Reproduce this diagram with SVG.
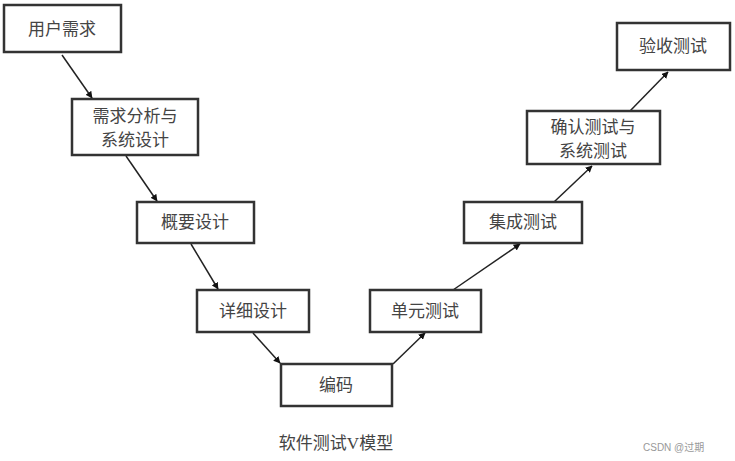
<svg xmlns="http://www.w3.org/2000/svg" width="735" height="461" viewBox="0 0 735 461">
<defs>
<style>
.b{fill:#fff;stroke:#333;stroke-width:2.5}
.t{font-family:"Liberation Serif","Noto Sans CJK SC",serif;font-size:17px;fill:#444;text-anchor:middle}
.c line{stroke:#222;stroke-width:1.5;marker-end:url(#a)}
</style>
<marker id="a" viewBox="0 0 10 10" refX="9" refY="5" markerWidth="7" markerHeight="7" orient="auto" markerUnits="userSpaceOnUse"><path d="M0,0L10,5L0,10z" fill="#111"/></marker>
</defs>
<rect width="735" height="461" fill="#fff"/>
<g class="c">
<line x1="62" y1="55" x2="92" y2="98"/>
<line x1="126" y1="156" x2="157" y2="201"/>
<line x1="191" y1="244" x2="218" y2="289"/>
<line x1="253" y1="333" x2="280" y2="363"/>
<line x1="393" y1="364" x2="425" y2="333"/>
<line x1="453" y1="290" x2="520" y2="244"/>
<line x1="554" y1="202" x2="592" y2="166"/>
<line x1="630" y1="111" x2="668" y2="72"/>
</g>
<g id="n1"><rect class="b" x="4" y="5" width="117" height="47"/><text class="t" x="62" y="35">用户需求</text></g>
<g id="n2"><rect class="b" x="72" y="99" width="126" height="56"/><text class="t" x="135" y="122">需求分析与</text><text class="t" x="135" y="146">系统设计</text></g>
<g id="n3"><rect class="b" x="137" y="202" width="117" height="41"/><text class="t" x="195" y="228">概要设计</text></g>
<g id="n4"><rect class="b" x="197" y="290" width="112" height="42"/><text class="t" x="253" y="317">详细设计</text></g>
<g id="n5"><rect class="b" x="281" y="364" width="111" height="42"/><text class="t" x="336" y="391">编码</text></g>
<g id="n6"><rect class="b" x="370" y="290" width="111" height="42"/><text class="t" x="425" y="317">单元测试</text></g>
<g id="n7"><rect class="b" x="464" y="202" width="118" height="41"/><text class="t" x="523" y="228">集成测试</text></g>
<g id="n8"><rect class="b" x="527" y="111" width="133" height="53"/><text class="t" x="593" y="133">确认测试与</text><text class="t" x="593" y="157">系统测试</text></g>
<g id="n9"><rect class="b" x="617" y="23" width="113" height="47"/><text class="t" x="673" y="52">验收测试</text></g>
<text class="t" x="336" y="449">软件测试V模型</text>
<text x="643" y="451" font-family="Liberation Sans,Noto Sans CJK SC,sans-serif" font-size="10" fill="#999">CSDN @过期</text>
</svg>
